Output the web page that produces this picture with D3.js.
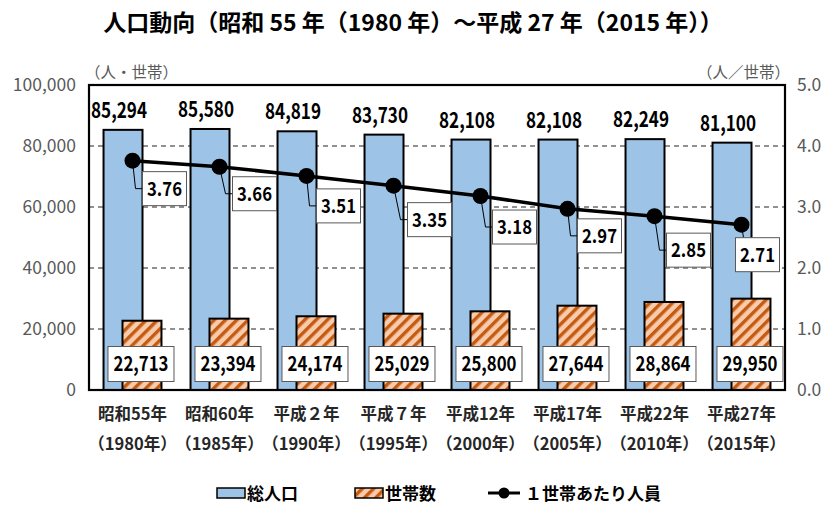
<!DOCTYPE html>
<html><head><meta charset="utf-8">
<script src="https://cdn.jsdelivr.net/npm/d3@7"></script>
<style>
html,body{margin:0;padding:0;background:#fff;}
svg{display:block;font-family:"Noto Sans CJK JP","Noto Sans",sans-serif;}
</style></head><body>
<svg id="c" width="824" height="507"></svg>
<script>
const categories = ["昭和55年","昭和60年","平成２年","平成７年","平成12年","平成17年","平成22年","平成27年"];
const yearLabels = ["（1980年）","（1985年）","（1990年）","（1995年）","（2000年）","（2005年）","（2010年）","（2015年）"];
const population = [85294, 85580, 84819, 83730, 82108, 82108, 82249, 81100];
const households = [22713, 23394, 24174, 25029, 25800, 27644, 28864, 29950];
const perHousehold = [3.76, 3.66, 3.51, 3.35, 3.18, 2.97, 2.85, 2.71];
const leftTicks = [0, 20000, 40000, 60000, 80000, 100000];
const rightTicks = [0, 1, 2, 3, 4, 5];
// label placement offsets (dx, dy) of ratio labels relative to their point
const ratioLabelOffsets = [[32,28],[35,27],[32,30],[36,34],[34,31],[32,27],[34,34],[16,30]];

const svg = d3.select("#c");
const L = 89, R = 785, T = 85, B = 390;
const x = d3.scaleBand().domain(categories).range([L, R]).padding(0);
const yL = d3.scaleLinear().domain([0, 100000]).range([B, T]);
const yR = d3.scaleLinear().domain([0, 5]).range([B, T]);
const bw = x.bandwidth();
const barW = bw * 0.448;
const off = bw * 0.109;
const cx = c => x(c) + bw / 2;

// pattern
const defs = svg.append("defs");
const pat = defs.append("pattern").attr("id","hatch").attr("patternUnits","userSpaceOnUse")
  .attr("width",8).attr("height",8).attr("patternTransform","rotate(45)");
pat.append("rect").attr("width",8).attr("height",8).attr("fill","#f8cbad");
pat.append("rect").attr("x",0).attr("width",3.4).attr("height",8).attr("fill","#c55a11");

// title
svg.append("text").attr("x",413).attr("y",31).attr("text-anchor","middle")
  .attr("font-size",23).attr("font-weight","bold").attr("fill","#000")
  .text("人口動向（昭和 55 年（1980 年）～平成 27 年（2015 年））");

// units
svg.append("text").attr("x",85).attr("y",78).attr("font-size",15.5).attr("fill","#595959").text("（人・世帯）");
svg.append("text").attr("x",790).attr("y",78).attr("text-anchor","end").attr("font-size",15.5).attr("fill","#595959").text("（人／世帯）");

// gridlines
svg.append("g").selectAll("line").data(leftTicks.filter(d => d > 0 && d < 100000)).join("line")
  .attr("x1",L).attr("x2",R).attr("y1",d=>yL(d)).attr("y2",d=>yL(d))
  .attr("stroke","#222").attr("stroke-width",1).attr("stroke-dasharray","5,4");

// axes (labels only)
const axL = svg.append("g").attr("transform",`translate(${L},0)`)
  .call(d3.axisLeft(yL).tickValues(leftTicks).tickFormat(d3.format(",")).tickSize(0).tickPadding(13));
const axR = svg.append("g").attr("transform",`translate(${R},0)`)
  .call(d3.axisRight(yR).tickValues(rightTicks).tickFormat(d3.format(".1f")).tickSize(0).tickPadding(12));
[axL, axR].forEach(a => {
  a.select(".domain").remove();
  a.selectAll("text").attr("font-size",17.5).attr("fill","#595959").attr("font-family","'Noto Sans CJK JP',sans-serif");
});

// bars
svg.append("g").selectAll("rect").data(categories).join("rect")
  .attr("x",(c)=>cx(c)-off-barW/2).attr("width",barW)
  .attr("y",(c,i)=>yL(population[i])).attr("height",(c,i)=>B-yL(population[i]))
  .attr("fill","#9dc3e6").attr("stroke","#000").attr("stroke-width",2);
svg.append("g").selectAll("rect").data(categories).join("rect")
  .attr("x",(c)=>cx(c)+off-barW/2).attr("width",barW)
  .attr("y",(c,i)=>yL(households[i])).attr("height",(c,i)=>B-yL(households[i]))
  .attr("fill","url(#hatch)").attr("stroke","#000").attr("stroke-width",2);

// plot border
svg.append("rect").attr("x",L).attr("y",T).attr("width",R-L).attr("height",B-T)
  .attr("fill","none").attr("stroke","#000").attr("stroke-width",2.2);

// population labels
svg.append("g").selectAll("text").data(categories).join("text")
  .attr("x",c=>cx(c)-off-4).attr("y",(c,i)=>yL(population[i])-12)
  .attr("text-anchor","middle").attr("font-size",21.5).attr("font-weight","bold").attr("fill","#000")
  .attr("textLength",56).attr("lengthAdjust","spacingAndGlyphs")
  .text((c,i)=>d3.format(",")(population[i]));

// household labels
const hg = svg.append("g").selectAll("g").data(categories).join("g")
  .attr("transform",c=>`translate(${cx(c)+off-1},364)`);
hg.append("rect").attr("x",-33).attr("y",-17.5).attr("width",66).attr("height",35)
  .attr("fill","#fff").attr("stroke","#595959").attr("stroke-width",1);
hg.append("text").attr("y",7).attr("text-anchor","middle").attr("font-size",20).attr("font-weight","bold")
  .attr("textLength",55).attr("lengthAdjust","spacingAndGlyphs")
  .attr("fill","#000").text((c,i)=>d3.format(",")(households[i]));

// line
const line = d3.line().x((d,i)=>cx(categories[i])).y(d=>yR(d));
svg.append("path").datum(perHousehold).attr("d",line).attr("fill","none")
  .attr("stroke","#000").attr("stroke-width",3.5);

// leader lines + ratio labels
const rg = svg.append("g").selectAll("g").data(perHousehold).join("g");
rg.each(function(d,i){
  const g = d3.select(this);
  const px = cx(categories[i]), py = yR(d);
  const lx = px + ratioLabelOffsets[i][0], ly = py + ratioLabelOffsets[i][1];
  const w = 44, h = 34;
  const bl = lx - w/2;
  if (i === categories.length - 1) {
    g.append("polyline").attr("points",`${px},${py} ${bl+8},${ly-h/2}`)
      .attr("fill","none").attr("stroke","#000").attr("stroke-width",1);
  } else {
    g.append("polyline").attr("points",`${px},${py} ${bl-7},${ly} ${bl},${ly}`)
      .attr("fill","none").attr("stroke","#000").attr("stroke-width",1);
  }
  g.append("rect").attr("x",bl).attr("y",ly-h/2).attr("width",w).attr("height",h)
    .attr("fill","#fff").attr("stroke","#595959").attr("stroke-width",1);
  g.append("text").attr("x",lx).attr("y",ly+7).attr("text-anchor","middle")
    .attr("font-size",19.5).attr("font-weight","bold").attr("fill","#000")
    .attr("textLength",35).attr("lengthAdjust","spacingAndGlyphs")
    .text(d3.format(".2f")(d));
});

// markers
svg.append("g").selectAll("circle").data(perHousehold).join("circle")
  .attr("cx",(d,i)=>cx(categories[i])).attr("cy",d=>yR(d)).attr("r",8).attr("fill","#000");

// category labels
const cg = svg.append("g").selectAll("g").data(categories).join("g");
cg.append("text").attr("x",c=>cx(c)).attr("y",420).attr("text-anchor","middle")
  .attr("font-size",16.5).attr("font-weight","bold").attr("fill","#262626").text(c=>c);
cg.append("text").attr("x",c=>cx(c)).attr("y",450).attr("text-anchor","middle")
  .attr("font-size",16.5).attr("font-weight","bold").attr("fill","#262626").text((c,i)=>yearLabels[i]);

// legend
const lg = svg.append("g").attr("font-size",17).attr("font-weight","bold").attr("fill","#000");
lg.append("rect").attr("x",217).attr("y",488).attr("width",28).attr("height",10).attr("fill","#9dc3e6").attr("stroke","#000").attr("stroke-width",1.5);
lg.append("text").attr("x",247).attr("y",500).text("総人口");
lg.append("rect").attr("x",355).attr("y",488).attr("width",28).attr("height",10).attr("fill","url(#hatch)").attr("stroke","#000").attr("stroke-width",1.5);
lg.append("text").attr("x",385).attr("y",500).text("世帯数");
lg.append("line").attr("x1",488).attr("x2",520).attr("y1",493).attr("y2",493).attr("stroke","#000").attr("stroke-width",3);
lg.append("circle").attr("cx",504).attr("cy",493).attr("r",5.5).attr("fill","#000");
lg.append("text").attr("x",525).attr("y",500).text("１世帯あたり人員");
</script>
</body></html>
